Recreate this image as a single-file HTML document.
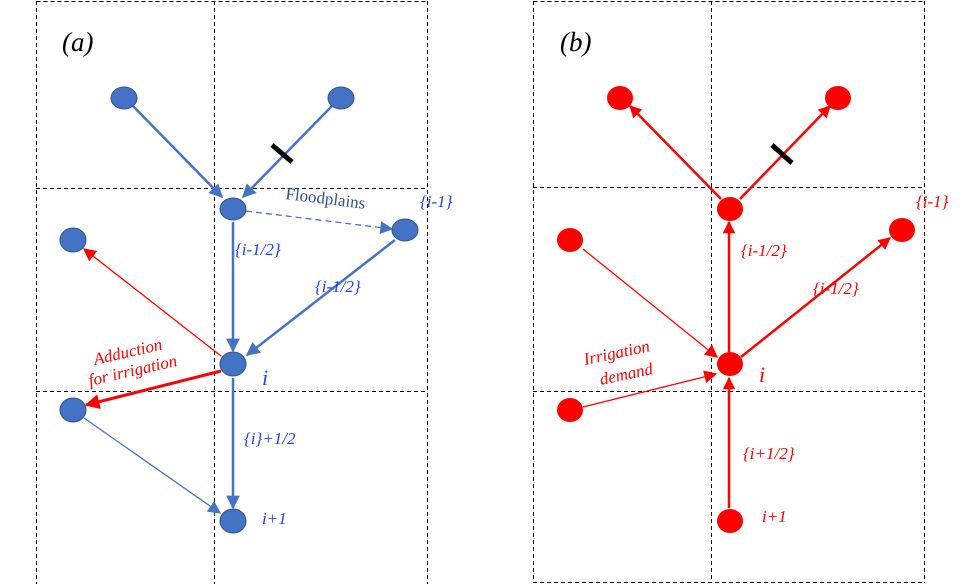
<!DOCTYPE html>
<html><head><meta charset="utf-8"><style>html,body{margin:0;padding:0;background:#fff}svg{display:block}</style></head>
<body>
<svg width="968" height="584" viewBox="0 0 968 584" xmlns="http://www.w3.org/2000/svg">
<defs>
<marker id="ab" viewBox="0 0 10 10" refX="9" refY="5" markerWidth="5.5" markerHeight="5.5" orient="auto" markerUnits="strokeWidth"><path d="M0,0L10,5L0,10z" fill="#4472c4"/></marker>
<marker id="abt" viewBox="0 0 10 10" refX="9" refY="5" markerWidth="10" markerHeight="10" orient="auto" markerUnits="strokeWidth"><path d="M0,0L10,5L0,10z" fill="#4472c4"/></marker>
<marker id="ar" viewBox="0 0 10 10" refX="9" refY="5" markerWidth="5" markerHeight="5" orient="auto" markerUnits="strokeWidth"><path d="M0,0L10,5L0,10z" fill="#ff0000"/></marker>
<marker id="art" viewBox="0 0 10 10" refX="9" refY="5" markerWidth="10" markerHeight="10" orient="auto" markerUnits="strokeWidth"><path d="M0,0L10,5L0,10z" fill="#ff0000"/></marker>
</defs>
<g stroke="#000" stroke-width="1" stroke-dasharray="4,3" fill="none">
<line x1="36.5" y1="1.5" x2="427.5" y2="1.5"/><line x1="36.5" y1="1" x2="36.5" y2="584"/><line x1="214.5" y1="1" x2="214.5" y2="584"/><line x1="427.5" y1="1" x2="427.5" y2="584"/>
<line x1="36" y1="188.5" x2="427" y2="188.5"/><line x1="36" y1="391.5" x2="427" y2="391.5"/>
<line x1="533.5" y1="1.5" x2="924.5" y2="1.5"/><line x1="533.5" y1="1" x2="533.5" y2="583"/><line x1="711.5" y1="1" x2="711.5" y2="583"/><line x1="924.5" y1="1" x2="924.5" y2="583"/>
<line x1="533" y1="582.5" x2="924" y2="582.5"/>
<line x1="533" y1="187.5" x2="924" y2="187.5"/><line x1="533" y1="391.5" x2="924" y2="391.5"/>
</g>
<g stroke="#4472c4" fill="none">
<line x1="133" y1="106" x2="222" y2="197" stroke-width="2.5" marker-end="url(#ab)"/>
<line x1="332" y1="106" x2="243" y2="197" stroke-width="2.5" marker-end="url(#ab)"/>
<line x1="246" y1="211" x2="392" y2="229" stroke-width="1.3" stroke-dasharray="6,4" marker-end="url(#abt)"/>
<line x1="233" y1="222" x2="233" y2="351" stroke-width="2.5" marker-end="url(#ab)"/>
<line x1="395" y1="240" x2="247" y2="355" stroke-width="2.5" marker-end="url(#ab)"/>
<line x1="233" y1="378" x2="233" y2="508" stroke-width="2.5" marker-end="url(#ab)"/>
<line x1="84" y1="418" x2="220" y2="513" stroke-width="1.3" marker-end="url(#abt)"/>
</g>
<line x1="221" y1="356" x2="84" y2="249" stroke="#ff0000" stroke-width="1.3" marker-end="url(#art)"/>
<line x1="221" y1="371" x2="86" y2="405" stroke="#ff0000" stroke-width="3" marker-end="url(#ar)"/>
<line x1="272" y1="145" x2="292" y2="162" stroke="#000" stroke-width="5"/>
<g fill="#4472c4" stroke="#2f528f" stroke-width="1">
<ellipse cx="124" cy="98" rx="13" ry="11"/><ellipse cx="341" cy="98" rx="13" ry="11"/>
<ellipse cx="233" cy="209" rx="13" ry="11"/><ellipse cx="73" cy="240" rx="13" ry="12"/>
<ellipse cx="405" cy="230" rx="13" ry="11"/><ellipse cx="233" cy="364" rx="13" ry="12"/>
<ellipse cx="73" cy="410" rx="13" ry="12"/><ellipse cx="233" cy="521" rx="13" ry="12"/>
</g>
<g font-family="Liberation Serif, serif" font-style="italic">
<text x="62" y="51" font-size="27" fill="#000">(a)</text>
<text x="560" y="51" font-size="27" fill="#000">(b)</text>
</g>
<g font-family="Liberation Serif, serif" font-style="italic" fill="#1f3fff" font-size="17">
<text x="420" y="207">{i-1}</text>
<text x="235" y="255">{i-1/2}</text>
<text x="315" y="292">{i-1/2}</text>
<text x="262" y="385" font-size="22">i</text>
<text x="244" y="444">{i}+1/2</text>
<text x="262" y="524">i+1</text>
</g>
<text x="285" y="199" font-family="Liberation Serif, serif" font-size="17" fill="#2f528f" transform="rotate(7 285 199)">Floodplains</text>
<g font-family="Liberation Serif, serif" font-style="italic" fill="#ff0000" font-size="17">
<text x="95" y="365" transform="rotate(-13 95 365)">Adduction</text>
<text x="90" y="386" transform="rotate(-13 90 386)">for irrigation</text>
</g>
<g stroke="#ff0000" fill="none">
<line x1="721" y1="199" x2="630" y2="106" stroke-width="2.5" marker-end="url(#ar)"/>
<line x1="740" y1="199" x2="830" y2="106" stroke-width="2.5" marker-end="url(#ar)"/>
<line x1="729" y1="352" x2="729" y2="222" stroke-width="2.5" marker-end="url(#ar)"/>
<line x1="741" y1="357" x2="890" y2="238" stroke-width="2.5" marker-end="url(#ar)"/>
<line x1="729" y1="508" x2="729" y2="378" stroke-width="2.5" marker-end="url(#ar)"/>
<line x1="583" y1="249" x2="717" y2="357" stroke-width="1.3" marker-end="url(#art)"/>
<line x1="583" y1="407" x2="716" y2="374" stroke-width="1.3" marker-end="url(#art)"/>
</g>
<line x1="772" y1="145" x2="792" y2="163" stroke="#000" stroke-width="5"/>
<g fill="#ff0000">
<ellipse cx="620" cy="98" rx="13" ry="12"/><ellipse cx="838" cy="98" rx="13" ry="12"/>
<ellipse cx="730" cy="209" rx="13" ry="12"/><ellipse cx="570" cy="240" rx="13" ry="12"/>
<ellipse cx="902" cy="230" rx="13" ry="12"/><ellipse cx="730" cy="364" rx="13" ry="12"/>
<ellipse cx="570" cy="410" rx="13" ry="12"/><ellipse cx="730" cy="521" rx="13" ry="12"/>
</g>
<g font-family="Liberation Serif, serif" font-style="italic" fill="#ff0000" font-size="17">
<text x="916" y="207">{i-1}</text>
<text x="741" y="256">{i-1/2}</text>
<text x="813" y="294">{i-1/2}</text>
<text x="759" y="382" font-size="22">i</text>
<text x="743" y="459">{i+1/2}</text>
<text x="762" y="522">i+1</text>
<text x="585" y="365" transform="rotate(-12 585 365)">Irrigation</text>
<text x="601" y="385" transform="rotate(-12 601 385)">demand</text>
</g>
</svg>
</body></html>
